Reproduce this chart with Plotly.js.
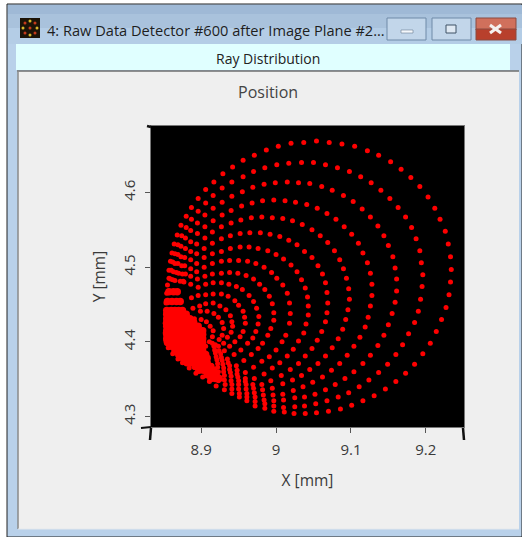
<!DOCTYPE html>
<html><head><meta charset="utf-8">
<script src="https://cdn.plot.ly/plotly-3.0.1.min.js"></script>
<style>html,body{margin:0;padding:0;background:#fff;overflow:hidden}</style>
</head><body><div id="chart" style="width:522px;height:537px"></div>
<script>
const windowTitle = "4: Raw Data Detector #600 after Image Plane #2...";
const bandTitle = "Ray Distribution";
const chartTitle = "Position";
const xTicks = [8.9, 9, 9.1, 9.2];
const xTickLabels = ["8.9", "9", "9.1", "9.2"];
const yTicks = [4.3, 4.4, 4.5, 4.6];
const yTickLabels = ["4.3", "4.4", "4.5", "4.6"];
const ring1 = [[9.037,4.667],[9.020,4.666],[9.003,4.662],[8.987,4.657],[8.971,4.650],[8.956,4.643],[8.942,4.634],[8.929,4.625],[8.917,4.614],[8.906,4.604],[8.896,4.592],[8.887,4.580],[8.880,4.568],[8.873,4.556],[8.868,4.543],[8.864,4.531],[8.861,4.519],[8.859,4.508],[8.857,4.496],[8.857,4.485],[8.855,4.476],[8.854,4.465],[8.853,4.452],[8.853,4.438],[8.852,4.425],[8.852,4.412],[8.853,4.401],[8.856,4.392],[8.862,4.384],[8.869,4.377],[8.875,4.372],[8.884,4.365],[8.893,4.358],[8.902,4.353],[8.911,4.347],[8.920,4.341],[8.931,4.336],[8.941,4.331],[8.951,4.326],[8.961,4.321],[8.972,4.314],[8.985,4.311],[8.997,4.307],[9.011,4.306],[9.024,4.304],[9.039,4.304],[9.054,4.305],[9.070,4.307],[9.086,4.310],[9.101,4.315],[9.116,4.321],[9.131,4.328],[9.146,4.337],[9.160,4.347],[9.173,4.358],[9.185,4.370],[9.196,4.384],[9.206,4.398],[9.214,4.414],[9.221,4.430],[9.227,4.446],[9.231,4.463],[9.233,4.480],[9.234,4.497],[9.233,4.514],[9.230,4.531],[9.226,4.548],[9.219,4.564],[9.212,4.579],[9.203,4.594],[9.192,4.608],[9.180,4.620],[9.167,4.631],[9.153,4.641],[9.137,4.650],[9.122,4.656],[9.105,4.662],[9.088,4.665],[9.071,4.667],[9.054,4.669]];
const ring2 = [[9.034,4.640],[9.017,4.639],[9.001,4.637],[8.985,4.633],[8.970,4.628],[8.956,4.621],[8.941,4.614],[8.928,4.606],[8.916,4.596],[8.906,4.586],[8.896,4.575],[8.887,4.564],[8.880,4.553],[8.874,4.542],[8.869,4.530],[8.865,4.518],[8.862,4.507],[8.860,4.496],[8.859,4.484],[8.923,4.348],[8.932,4.343],[8.941,4.337],[8.951,4.331],[8.961,4.326],[8.972,4.320],[8.985,4.317],[8.997,4.314],[9.010,4.312],[9.025,4.313],[9.038,4.314],[9.053,4.317],[9.068,4.321],[9.083,4.326],[9.097,4.332],[9.111,4.340],[9.124,4.349],[9.137,4.359],[9.149,4.370],[9.160,4.383],[9.169,4.396],[9.177,4.411],[9.185,4.426],[9.190,4.441],[9.193,4.457],[9.195,4.474],[9.196,4.490],[9.194,4.506],[9.192,4.522],[9.187,4.538],[9.181,4.553],[9.173,4.567],[9.163,4.580],[9.152,4.592],[9.140,4.603],[9.127,4.613],[9.113,4.621],[9.098,4.628],[9.082,4.633],[9.066,4.637],[9.050,4.640]];
const ring3 = [[9.030,4.613],[9.015,4.614],[8.999,4.613],[8.984,4.611],[8.969,4.607],[8.955,4.601],[8.941,4.595],[8.928,4.587],[8.916,4.579],[8.905,4.570],[8.895,4.559],[8.886,4.549],[8.879,4.539],[8.873,4.528],[8.869,4.517],[8.865,4.505],[8.863,4.494],[8.862,4.483],[9.045,4.612],[9.061,4.608],[9.075,4.603],[9.090,4.596],[9.103,4.588],[9.115,4.578],[9.126,4.567],[9.136,4.555],[9.144,4.542],[9.150,4.529],[9.156,4.514],[9.159,4.499],[9.161,4.484],[9.161,4.468],[9.159,4.453],[9.155,4.438],[9.150,4.423],[9.144,4.409],[9.136,4.395],[9.126,4.382],[9.116,4.371],[9.104,4.360],[9.092,4.351],[9.079,4.343],[9.066,4.336],[9.052,4.330],[9.038,4.326],[9.025,4.325],[9.010,4.322],[8.997,4.321],[8.984,4.322],[8.972,4.326],[8.961,4.331],[8.950,4.337],[8.941,4.343],[8.931,4.349],[8.923,4.354]];
const ring4 = [[9.026,4.587],[9.012,4.589],[8.997,4.590],[8.982,4.589],[8.968,4.586],[8.954,4.582],[8.940,4.576],[8.928,4.570],[8.916,4.562],[8.905,4.554],[8.895,4.545],[8.886,4.534],[8.879,4.525],[8.873,4.514],[8.869,4.505],[8.867,4.493],[8.865,4.482],[9.041,4.584],[9.055,4.579],[9.068,4.572],[9.080,4.564],[9.091,4.554],[9.101,4.544],[9.110,4.532],[9.116,4.519],[9.122,4.506],[9.126,4.492],[9.128,4.477],[9.128,4.462],[9.126,4.448],[9.123,4.433],[9.119,4.420],[9.112,4.406],[9.104,4.394],[9.095,4.382],[9.085,4.371],[9.074,4.362],[9.062,4.353],[9.049,4.346],[9.036,4.340],[9.023,4.335],[9.009,4.330],[8.996,4.329],[8.983,4.329],[8.971,4.332],[8.960,4.337],[8.950,4.343],[8.940,4.348],[8.931,4.355],[8.923,4.360]];
const ring5 = [[9.022,4.562],[9.009,4.565],[8.995,4.566],[8.981,4.567],[8.967,4.566],[8.953,4.563],[8.940,4.559],[8.927,4.554],[8.915,4.547],[8.905,4.539],[8.894,4.531],[8.886,4.521],[8.878,4.513],[8.874,4.502],[8.870,4.492],[9.035,4.557],[9.048,4.550],[9.059,4.542],[9.069,4.533],[9.078,4.522],[9.085,4.510],[9.090,4.498],[9.094,4.485],[9.097,4.471],[9.098,4.457],[9.096,4.443],[9.093,4.430],[9.089,4.417],[9.083,4.404],[9.075,4.392],[9.066,4.381],[9.056,4.371],[9.045,4.363],[9.034,4.355],[9.022,4.349],[9.009,4.344],[8.995,4.338],[8.982,4.336],[8.970,4.338],[8.960,4.343],[8.950,4.348],[8.940,4.354],[8.930,4.360],[8.922,4.366]];
const ring6 = [[9.028,4.530],[9.017,4.536],[9.005,4.541],[8.992,4.544],[8.979,4.546],[8.965,4.546],[8.952,4.545],[8.939,4.542],[8.927,4.538],[8.915,4.532],[8.904,4.525],[8.894,4.518],[8.886,4.510],[8.878,4.502],[8.875,4.491],[8.872,4.481],[9.038,4.521],[9.048,4.513],[9.056,4.502],[9.062,4.491],[9.066,4.479],[9.068,4.466],[9.069,4.452],[9.068,4.439],[9.066,4.427],[9.061,4.414],[9.055,4.402],[9.048,4.391],[9.039,4.381],[9.030,4.371],[9.019,4.363],[9.007,4.355],[8.993,4.348],[8.981,4.343],[8.969,4.343],[8.959,4.347],[8.949,4.353],[8.939,4.359],[8.930,4.365],[8.922,4.371]];
const ring7 = [[9.034,4.483],[9.028,4.494],[9.020,4.503],[9.010,4.511],[9.000,4.517],[8.989,4.522],[8.976,4.525],[8.964,4.527],[8.952,4.527],[8.939,4.525],[8.927,4.521],[8.915,4.518],[8.904,4.513],[8.894,4.505],[8.886,4.498],[8.879,4.491],[8.876,4.481],[9.039,4.472],[9.042,4.460],[9.043,4.448],[9.043,4.436],[9.040,4.424],[9.037,4.412],[9.030,4.401],[9.023,4.390],[9.015,4.381],[9.005,4.372],[8.995,4.365],[8.984,4.357],[8.971,4.351],[8.959,4.351],[8.948,4.357],[8.938,4.363],[8.929,4.370],[8.921,4.376]];
const ring8 = [[8.994,4.493],[8.984,4.500],[8.973,4.505],[8.962,4.508],[8.950,4.509],[8.938,4.509],[8.927,4.508],[8.915,4.505],[8.904,4.500],[8.894,4.494],[8.886,4.488],[8.877,4.480],[9.001,4.485],[9.009,4.476],[9.015,4.465],[9.018,4.452],[9.019,4.438],[9.018,4.425],[9.013,4.409],[9.008,4.400],[9.000,4.389],[8.991,4.380],[8.981,4.374],[8.970,4.366],[8.959,4.359],[8.948,4.362],[8.938,4.368],[8.928,4.375],[8.920,4.380]];
const ring9 = [[8.970,4.484],[8.960,4.489],[8.949,4.492],[8.938,4.493],[8.927,4.492],[8.915,4.491],[8.905,4.488],[8.895,4.484],[8.886,4.477],[8.978,4.477],[8.985,4.470],[8.991,4.461],[8.995,4.451],[8.997,4.439],[8.997,4.429],[8.993,4.418],[8.989,4.409],[8.982,4.398],[8.976,4.391],[8.967,4.383],[8.957,4.375],[8.947,4.368],[8.936,4.372],[8.927,4.379],[8.919,4.385]];
const ring10 = [[8.896,4.473],[8.906,4.477],[8.916,4.479],[8.927,4.479],[8.937,4.477],[8.947,4.474],[8.955,4.470],[8.964,4.462],[8.970,4.454],[8.974,4.445],[8.977,4.434],[8.976,4.424],[8.973,4.414],[8.969,4.405],[8.962,4.398],[8.953,4.389],[8.944,4.383],[8.935,4.377],[8.926,4.384],[8.918,4.389]];
const ring11 = [[8.887,4.459],[8.896,4.462],[8.906,4.463],[8.916,4.464],[8.927,4.464],[8.936,4.461],[8.945,4.455],[8.950,4.449],[8.956,4.441],[8.958,4.433],[8.959,4.425],[8.956,4.414],[8.952,4.407],[8.945,4.400],[8.938,4.394],[8.931,4.388],[8.924,4.388],[8.917,4.394]];
const ring12 = [[8.889,4.445],[8.898,4.448],[8.906,4.451],[8.916,4.452],[8.925,4.448],[8.933,4.443],[8.939,4.435],[8.941,4.427],[8.942,4.421],[8.940,4.413],[8.935,4.406],[8.930,4.398],[8.923,4.394],[8.915,4.398]];
const ring13 = [[8.899,4.441],[8.908,4.441],[8.917,4.438],[8.923,4.433],[8.928,4.426],[8.930,4.418],[8.928,4.409],[8.924,4.403],[8.919,4.396]];
const ring14 = [[8.891,4.431],[8.900,4.430],[8.907,4.427],[8.912,4.421],[8.916,4.415],[8.915,4.407],[8.911,4.400],[8.906,4.394]];
const denseY = [4.467,4.454,4.442,4.437,4.431,4.426,4.421,4.415,4.410,4.404,4.399,4.394,4.388,4.383,4.378,4.372,4.367,4.362,4.356,4.351];
const denseX = [
 [8.857,8.863,8.868],
 [8.855,8.861,8.867,8.872],
 [8.854,8.860,8.865,8.870,8.875],
 [8.854,8.860,8.865,8.870,8.876,8.880],
 [8.854,8.860,8.865,8.870,8.876,8.881,8.885],
 [8.854,8.860,8.865,8.870,8.876,8.881,8.886,8.890],
 [8.854,8.860,8.865,8.870,8.876,8.881,8.886,8.892,8.896],
 [8.854,8.860,8.865,8.870,8.876,8.881,8.886,8.892,8.897,8.902],
 [8.854,8.860,8.865,8.870,8.876,8.881,8.886,8.892,8.897,8.902],
 [8.854,8.860,8.865,8.870,8.876,8.881,8.886,8.892,8.897,8.902],
 [8.855,8.860,8.865,8.870,8.876,8.881,8.886,8.892,8.897,8.902],
 [8.860,8.865,8.870,8.876,8.881,8.886,8.892,8.897,8.902],
 [8.865,8.870,8.876,8.881,8.886,8.892,8.897,8.902],
 [8.870,8.876,8.881,8.886,8.892,8.897,8.902,8.906],
 [8.876,8.881,8.886,8.892,8.897,8.903,8.908],
 [8.881,8.886,8.892,8.897,8.903,8.908],
 [8.892,8.897,8.903,8.908,8.913],
 [8.897,8.903,8.908,8.913,8.917],
 [8.908,8.913,8.919],
 [8.913,8.919,8.924]
];

const rings = [ring1,ring2,ring3,ring4,ring5,ring6,ring7,ring8,ring9,ring10,ring11,ring12,ring13,ring14];
const marker = {color:'#ff0000', size:5, line:{width:0}};
const traces = rings.map(r => ({type:'scatter', mode:'markers', x:r.map(p=>p[0]), y:r.map(p=>p[1]), marker, hoverinfo:'skip', showlegend:false}));
traces.push({type:'scatter', mode:'markers', x:denseX.flat(), y:denseX.flatMap((row,i)=>row.map(()=>denseY[i])), marker:{color:'#ff0000',size:7.5,line:{width:0}}, hoverinfo:'skip', showlegend:false});

const W=522,H=537, L=151,R=464,T=126,B=427;
const fx=p=>(p-L)/(R-L), fy=p=>(B-p)/(B-T);
const rect=(x0,y0,x1,y1,fill,line,lw)=>({type:'rect',xref:'paper',yref:'paper',x0:fx(x0),x1:fx(x1),y0:fy(y0),y1:fy(y1),fillcolor:fill,line:{color:line||fill,width:lw===undefined?0:lw},layer:'below'});
const seg=(x0,y0,x1,y1,c,w)=>({type:'line',xref:'paper',yref:'paper',x0:fx(x0),x1:fx(x1),y0:fy(y0),y1:fy(y1),line:{color:c,width:w},layer:'above'});
const dot=(x,y,c)=>({type:'circle',xref:'paper',yref:'paper',x0:fx(x-1.5),x1:fx(x+1.5),y0:fy(y-1.5),y1:fy(y+1.5),fillcolor:c,line:{width:0},layer:'below'});
const shapes=[
 rect(0,0,522,537,'#ffffff'),
 rect(7,4,522,537,'#b9d1ea','#222222',1),
 rect(8,5,522,14,'#9fb9d6'),
 rect(8,14,522,28,'#a9c2dc'),
 rect(8,28,522,44,'#b4cde6'),
 rect(16,44,510,70,'#e0ffff'),
 rect(18,71,519,529,'#efefef'),
 rect(L,T,R,B,'#000000'),
 seg(17,71,519,71,'#6e6e6e',1.5),
 seg(18,71,18,529,'#8a8a8a',1.5),
 seg(18,529,519,529,'#e4e8ec',1),
 rect(20,18,40,38,'#1c1408'),
 dot(25,23,'#c43a1a'),dot(30,21,'#d9b52a'),dot(35,23,'#c43a1a'),dot(23,28,'#d9b52a'),dot(30,28,'#c43a1a'),dot(37,28,'#d9b52a'),dot(25,33,'#c43a1a'),dot(30,35,'#d9b52a'),dot(35,33,'#c43a1a'),
 rect(387,18,426,40,'#c2d6ea','#6f8aa8',1),
 rect(401,30,413,33,'#f4f8fc','#50677f',0.5),
 rect(432,18,471,40,'#c2d6ea','#6f8aa8',1),
 rect(446,25,456,33,'#dfe9f3','#3f5266',1),
 rect(476,18,516,30,'#d0705c','#8a4a40',1),
 rect(476,29,516,40,'#b8402c','#8a4a40',1),
 seg(490,25,501,33,'#f5f0ee',3),
 seg(501,25,490,33,'#f5f0ee',3),
 seg(147,126,151,127,'#111111',2.5),
 seg(141,428,151,427,'#111111',2),
 seg(151,428,150,440,'#111111',2.5),
 seg(463,428,464,440,'#111111',2.5)
];
const textFont={family:'"Open Sans","Noto Sans",sans-serif',size:13,color:'#3a3a3a'};
const note=(x,y,text,size,color,anchor)=>({xref:'paper',yref:'paper',x:fx(x),y:fy(y),text,showarrow:false,xanchor:anchor||'center',yanchor:'middle',font:{family:textFont.family,size,color:color||'#3a3a3a'}});
const layout={
 width:W,height:H,margin:{l:L,r:W-R,t:T,b:H-B,pad:0},
 paper_bgcolor:'rgba(0,0,0,0)',plot_bgcolor:'#000000',
 showlegend:false,font:textFont,
 xaxis:{range:[8.833,9.251],tickvals:xTicks,ticktext:xTickLabels,ticks:'outside',ticklen:5,tickwidth:1,tickcolor:'#555555',ticklabelstandoff:4,showgrid:false,zeroline:false,showline:true,linecolor:'#777777',linewidth:1,mirror:true,tickfont:{size:15,color:'#3a3a3a'},title:{text:'X [mm]',font:{size:15.5,color:'#3a3a3a'},standoff:17}},
 yaxis:{range:[4.286,4.689],tickvals:yTicks,ticktext:yTickLabels,tickangle:-90,ticks:'outside',ticklen:5,tickwidth:1,tickcolor:'#555555',ticklabelstandoff:4,showgrid:false,zeroline:false,showline:true,linecolor:'#777777',linewidth:1,mirror:true,tickfont:{size:15,color:'#3a3a3a'},title:{text:'Y [mm]',font:{size:15.5,color:'#3a3a3a'},standoff:9}},
 shapes,
 annotations:[
  note(45,30,windowTitle,14.6,'#1e1e1e','left'),
  note(268,58,bandTitle,14,'#222222'),
  note(268,92,chartTitle,16,'#444444')
 ]
};
Plotly.newPlot('chart',traces,layout,{displayModeBar:false,staticPlot:true});
</script></body></html>
